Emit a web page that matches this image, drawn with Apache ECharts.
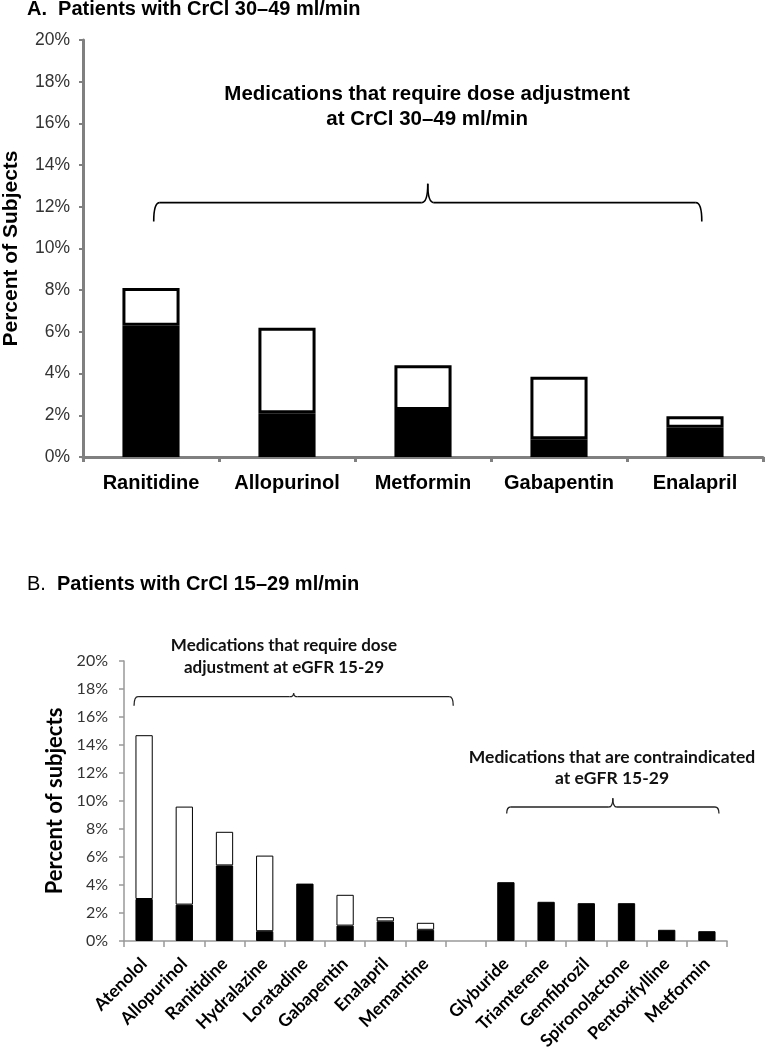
<!DOCTYPE html>
<html><head><meta charset="utf-8">
<script src="https://cdn.jsdelivr.net/npm/echarts@6/dist/echarts.min.js"></script>
<style>html,body{margin:0;padding:0;background:#fff}#c{width:765px;height:1050px}</style>
</head><body><div id="c"></div>
<script>
// ---- data ----
const aCategories = ['Ranitidine', 'Allopurinol', 'Metformin', 'Gabapentin', 'Enalapril'];
const aTotal = [8.1, 6.2, 4.4, 3.85, 1.95];
const aBlack = [6.3, 2.1, 2.25, 0.85, 1.4];

const bCategories = ['Atenolol', 'Allopurinol', 'Ranitidine', 'Hydralazine', 'Loratadine', 'Gabapentin', 'Enalapril', 'Memantine', '',
  'Glyburide', 'Triamterene', 'Gemfibrozil', 'Spironolactone', 'Pentoxifylline', 'Metformin'];
const bTotal = [14.7, 9.6, 7.8, 6.1, 4.1, 3.3, 1.7, 1.3, null, 4.2, 2.8, 2.7, 2.7, 0.8, 0.7];
const bBlack = [3.0, 2.6, 5.4, 0.7, 4.1, 1.1, 1.4, 0.8, null, 4.2, 2.8, 2.7, 2.7, 0.8, 0.7];

const yTickValues = [0, 2, 4, 6, 8, 10, 12, 14, 16, 18, 20];

const aNote = 'Medications that require dose adjustment\nat CrCl 30–49 ml/min';
const bNote1 = 'Medications that require dose\nadjustment at eGFR 15-29';
const bNote2 = 'Medications that are contraindicated\nat eGFR 15-29';

// ---- derived ----
function whitePart(total, black) {
  return total.map((t, i) => (t == null ? '-' : (t - black[i] > 0.001 ? +(t - black[i]).toFixed(2) : '-')));
}
const aWhite = whitePart(aTotal, aBlack);
const bWhite = whitePart(bTotal, bBlack);

const ARIAL = '"Liberation Sans", Arial, sans-serif';
const CAL = 'Lato, "Open Sans", sans-serif';

const chart = echarts.init(document.getElementById('c'), null, {renderer: 'canvas'});

const option = {
  animation: false,
  backgroundColor: '#fff',
  title: [
    {text: 'A.  Patients with CrCl 30–49 ml/min', left: 27, top: -1, padding: 0,
     textStyle: {fontFamily: ARIAL, fontWeight: 'bold', fontSize: 20, color: '#000'}},
    {text: '{r|B.}  {b|Patients with CrCl 15–29 ml/min}', left: 27, top: 574, padding: 0,
     textStyle: {fontFamily: ARIAL, fontSize: 20, color: '#000',
       rich: {r: {fontFamily: ARIAL, fontSize: 20, fontWeight: 'normal', color: '#000'},
              b: {fontFamily: ARIAL, fontSize: 20, fontWeight: 'bold', color: '#000'}}}}
  ],
  grid: [
    {left: 83, top: 40, width: 680, height: 417, containLabel: false, outerBoundsMode: 'none'},
    {left: 124, top: 661, width: 603, height: 280, containLabel: false, outerBoundsMode: 'none'}
  ],
  xAxis: [
    {type: 'category', gridIndex: 0, data: aCategories,
     axisLine: {lineStyle: {color: '#808080', width: 3}},
     axisTick: {show: true, length: 5, lineStyle: {color: '#808080', width: 3}},
     axisLabel: {fontFamily: ARIAL, fontWeight: 'bold', fontSize: 20, color: '#000', margin: 16, interval: 0}},
    {type: 'category', gridIndex: 1, data: bCategories,
     axisLine: {lineStyle: {color: '#999', width: 1.5}},
     axisTick: {show: true, length: 6, lineStyle: {color: '#999', width: 1.5}},
     axisLabel: {fontFamily: CAL, fontWeight: 'bold', fontSize: 17.5, color: '#000', rotate: 45, margin: 20, interval: 0}}
  ],
  yAxis: [
    {type: 'value', gridIndex: 0, min: yTickValues[0], max: yTickValues[yTickValues.length - 1], interval: 2,
     name: 'Percent of Subjects', nameLocation: 'middle', nameGap: 61,
     nameTextStyle: {fontFamily: ARIAL, fontWeight: 'bold', fontSize: 21, color: '#000'},
     axisLine: {show: true, lineStyle: {color: '#808080', width: 3}},
     axisTick: {show: true, length: 4, lineStyle: {color: '#808080', width: 2}},
     splitLine: {show: false},
     axisLabel: {formatter: '{value}%', fontFamily: ARIAL, fontSize: 17.5, color: '#333', margin: 13}},
    {type: 'value', gridIndex: 1, min: yTickValues[0], max: yTickValues[yTickValues.length - 1], interval: 2,
     name: 'Percent of subjects', nameLocation: 'middle', nameGap: 56,
     nameTextStyle: {fontFamily: CAL, fontWeight: 'bold', fontSize: 22, color: '#000'},
     axisLine: {show: true, lineStyle: {color: '#999', width: 1.5}},
     axisTick: {show: true, length: 5, lineStyle: {color: '#999', width: 1.5}},
     splitLine: {show: false},
     axisLabel: {formatter: '{value}%', fontFamily: CAL, fontSize: 16, color: '#333', margin: 16}}
  ],
  series: [
    {type: 'bar', xAxisIndex: 0, yAxisIndex: 0, stack: 'a', data: aBlack, barWidth: '42%',
     itemStyle: {color: '#000', borderColor: '#000', borderWidth: 3}},
    {type: 'bar', xAxisIndex: 0, yAxisIndex: 0, stack: 'a', data: aWhite, barWidth: '42%',
     itemStyle: {color: '#fff', borderColor: '#000', borderWidth: 3}},
    {type: 'bar', xAxisIndex: 1, yAxisIndex: 1, stack: 'b', data: bBlack, barWidth: '43%',
     itemStyle: {color: '#000', borderColor: '#000', borderWidth: 1}},
    {type: 'bar', xAxisIndex: 1, yAxisIndex: 1, stack: 'b', data: bWhite, barWidth: '43%',
     itemStyle: {color: '#fff', borderColor: '#000', borderWidth: 1}}
  ]
};
chart.setOption(option);

// ---- annotations positioned through the axes ----
function px(g, catPos, val) {
  const p0 = chart.convertToPixel({xAxisIndex: g, yAxisIndex: g}, [0, val]);
  const p1 = chart.convertToPixel({xAxisIndex: g, yAxisIndex: g}, [1, val]);
  return [p0[0] + (p1[0] - p0[0]) * catPos, p0[1]];
}
function brace(g, from, to, yLine, yEnd, yPeak, r, lw, color) {
  const a = px(g, from, yLine), b = px(g, to, yLine);
  const yl = a[1], ye = px(g, 0, yEnd)[1], yp = px(g, 0, yPeak)[1];
  const x0 = a[0], x1 = b[0], xm = (x0 + x1) / 2;
  const st = {stroke: color, lineWidth: lw, fill: null};
  const mk = (x1_, y1_, cx, cy, x2_, y2_) => ({type: 'bezierCurve', shape: {x1: x1_, y1: y1_, cpx1: cx, cpy1: cy, x2: x2_, y2: y2_}, style: st, silent: true});
  const ln = (xa, xb) => ({type: 'line', shape: {x1: xa, y1: yl, x2: xb, y2: yl}, style: st, silent: true});
  return [
    mk(x0, ye, x0, yl, x0 + r, yl),
    ln(x0 + r, xm - r),
    mk(xm - r, yl, xm, yl, xm, yp),
    mk(xm, yp, xm, yl, xm + r, yl),
    ln(xm + r, x1 - r),
    mk(x1 - r, yl, x1, yl, x1, ye)
  ];
}
function note(g, catPos, val, text, font, size, lh, color) {
  const p = px(g, catPos, val);
  return {type: 'text', x: p[0], y: p[1], silent: true,
    style: {text: text, fontFamily: font, fontWeight: 'bold', fontSize: size, lineHeight: lh,
      fill: color, align: 'center', verticalAlign: 'middle'}};
}

const els = [].concat(
  brace(0, 0.02, 4.05, 12.2, 11.3, 13.1, 6, 1.6, '#000'),
  [note(0, 2.03, 16.8, aNote, ARIAL, 20.5, 25, '#000')],
  brace(1, -0.25, 7.69, 17.45, 16.8, 17.7, 4, 1.3, '#222'),
  [note(1, 3.48, 20.35, bNote1, CAL, 17, 22, '#111')],
  brace(1, 9.02, 14.3, 9.57, 9.1, 10.2, 4, 1.3, '#222'),
  [note(1, 11.64, 12.4, bNote2, CAL, 17.5, 21, '#111')]
);
chart.setOption({graphic: {elements: els}});
</script>
</body></html>
